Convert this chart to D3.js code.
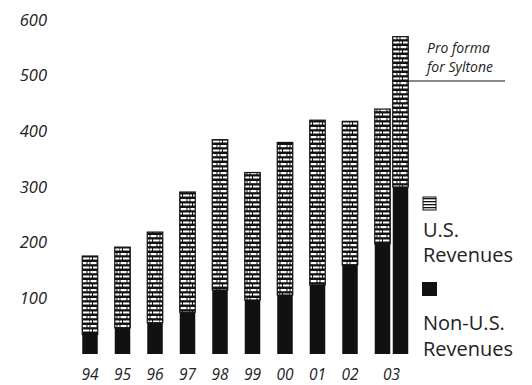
<!DOCTYPE html>
<html>
<head>
<meta charset="utf-8">
<script src="https://cdn.jsdelivr.net/npm/d3@7"></script>
<style>
  html, body { margin: 0; padding: 0; background: #fff; }
  svg { display: block; font-family: "Open Sans", "DejaVu Sans", sans-serif; }
</style>
</head>
<body>
<svg id="chart" width="532" height="385"></svg>
<script>
// Revenues, $ millions
const years = ["94", "95", "96", "97", "98", "99", "00", "01", "02", "03"];
const totalRevenues = [176, 192, 219, 291, 385, 326, 380, 420, 418, 440];
const nonUSRevenues = [35, 47, 56, 75, 115, 97, 106, 124, 160, 198];
const proFormaTotal = 570;
const proFormaNonUS = 300;
const yTicks = [100, 200, 300, 400, 500, 600];

const svg = d3.select("#chart");

// screened fill for U.S. revenues
const defs = svg.append("defs");
const pat = defs.append("pattern")
  .attr("id", "usPat")
  .attr("patternUnits", "userSpaceOnUse")
  .attr("width", 10).attr("height", 9);
pat.append("rect").attr("width", 10).attr("height", 9).attr("fill", "#111");
pat.append("rect").attr("x", 0.5).attr("y", 1).attr("width", 6).attr("height", 2.2).attr("fill", "#fff");
pat.append("rect").attr("x", 7.5).attr("y", 1).attr("width", 2).attr("height", 2.2).attr("fill", "#fff");
pat.append("rect").attr("x", 3).attr("y", 5.5).attr("width", 6.5).attr("height", 2).attr("fill", "#fff");
pat.append("rect").attr("x", 0).attr("y", 5.5).attr("width", 2).attr("height", 2).attr("fill", "#fff");

const legPat = defs.append("pattern")
  .attr("id", "legPat")
  .attr("patternUnits", "userSpaceOnUse")
  .attr("width", 13).attr("height", 3);
legPat.append("rect").attr("width", 13).attr("height", 3).attr("fill", "#fff");
legPat.append("rect").attr("y", 0).attr("width", 13).attr("height", 1.3).attr("fill", "#111");

const x = d3.scalePoint().domain(years).range([90, 382.5]);
const y = d3.scaleLinear().domain([0, 600]).range([354, 20]);
const barW = 15.5;
const pfOffset = 18;

// y axis labels (no axis line)
const yAxis = d3.axisLeft(y).tickValues(yTicks).tickSize(0).tickPadding(0);
const gy = svg.append("g").attr("transform", "translate(47,0)").call(yAxis);
gy.select(".domain").remove();
gy.selectAll("text")
  .attr("font-family", "Open Sans, sans-serif")
  .attr("font-style", "italic")
  .attr("font-size", 16.5)
  .attr("fill", "#222");

const data = years.map((yr, i) => ({ yr, total: totalRevenues[i], nonus: nonUSRevenues[i] }));

const bars = svg.append("g");
function drawBar(cx, total, nonus) {
  bars.append("rect")
    .attr("x", cx - barW / 2).attr("width", barW)
    .attr("y", y(total)).attr("height", y(nonus) - y(total))
    .attr("fill", "url(#usPat)")
    .attr("stroke", "#111").attr("stroke-width", 1.2);
  bars.append("rect")
    .attr("x", cx - barW / 2).attr("width", barW)
    .attr("y", y(nonus)).attr("height", y(0) - y(nonus))
    .attr("fill", "#111");
}
data.forEach(d => drawBar(x(d.yr), d.total, d.nonus));
drawBar(x("03") + pfOffset, proFormaTotal, proFormaNonUS);

// x labels
const gx = svg.append("g");
gx.selectAll("text").data(years).join("text")
  .attr("x", d => d === "03" ? x(d) + pfOffset / 2 : x(d))
  .attr("y", 380)
  .attr("text-anchor", "middle")
  .attr("font-style", "italic")
  .attr("font-size", 15.5)
  .attr("fill", "#222")
  .text(d => d);

// pro forma annotation
const ann = svg.append("g");
ann.append("line")
  .attr("x1", x("03") + pfOffset + barW / 2).attr("x2", 505)
  .attr("y1", 81).attr("y2", 81)
  .attr("stroke", "#111").attr("stroke-width", 1.2);
ann.append("text").attr("x", 427).attr("y", 53)
  .attr("font-style", "italic").attr("font-size", 14).attr("fill", "#222")
  .text("Pro forma");
ann.append("text").attr("x", 427).attr("y", 72)
  .attr("font-style", "italic").attr("font-size", 14).attr("fill", "#222")
  .text("for Syltone");

// legend
const leg = svg.append("g");
leg.append("rect").attr("x", 423).attr("y", 197).attr("width", 13).attr("height", 13)
  .attr("fill", "url(#legPat)").attr("stroke", "#111").attr("stroke-width", 1);
leg.append("text").attr("x", 423).attr("y", 237).attr("font-size", 20).attr("fill", "#222").text("U.S.");
leg.append("text").attr("x", 423).attr("y", 262).attr("font-size", 20).attr("fill", "#222").text("Revenues");
leg.append("rect").attr("x", 422).attr("y", 282).attr("width", 15).attr("height", 14).attr("fill", "#111");
leg.append("text").attr("x", 423).attr("y", 330).attr("font-size", 20).attr("fill", "#222").text("Non-U.S.");
leg.append("text").attr("x", 423).attr("y", 356).attr("font-size", 20).attr("fill", "#222").text("Revenues");
</script>
</body>
</html>
